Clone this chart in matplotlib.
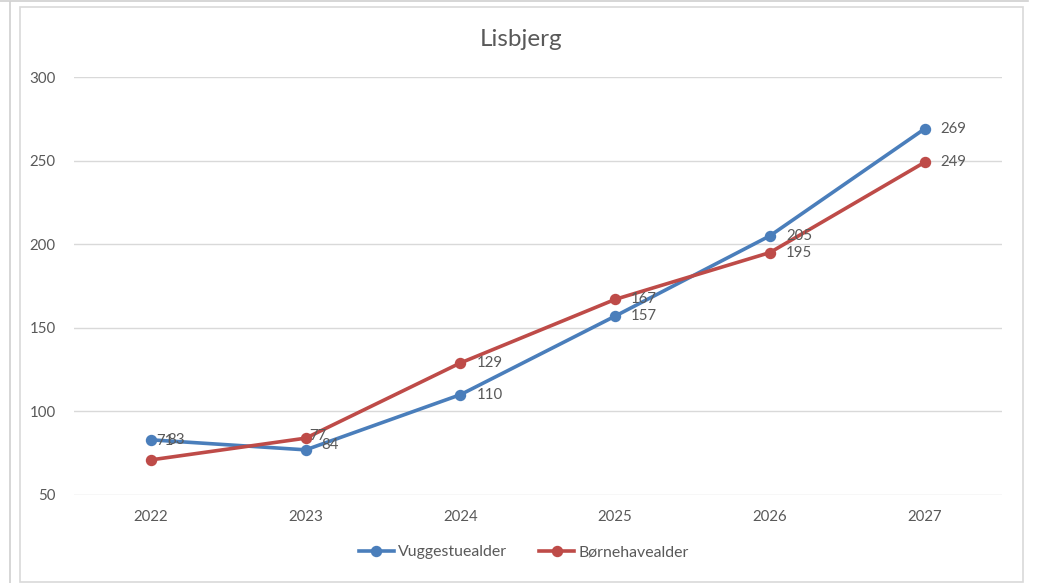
import matplotlib
matplotlib.use("Agg")
import matplotlib.pyplot as plt
from matplotlib.patches import Rectangle
from matplotlib.lines import Line2D

plt.rcParams['font.family'] = ['Lato', 'DejaVu Sans']

# ---- data ----
years = ["2022", "2023", "2024", "2025", "2026", "2027"]
vuggestue = [83, 77, 110, 157, 205, 269]
boernehave = [71, 84, 129, 167, 195, 249]
vuggestue_labels = ["83", "84", "110", "157", "205", "269"]
boernehave_labels = ["71", "77", "129", "167", "195", "249"]
y_ticks = [50, 100, 150, 200, 250, 300]
title = "Lisbjerg"
series_names = ["Vuggestuealder", "Børnehavealder"]

# ---- styling ----
W, H = 1038, 583
BLUE = "#4a7ebb"
RED = "#be4b48"
TEXT = "#595959"
GRID = "#d9d9d9"

fig = plt.figure(figsize=(W / 100, H / 100), dpi=100)
fig.patch.set_facecolor("white")

def fx(px):
    return px / W

def fy(py):
    return 1 - py / H

# outer decorations
fig.add_artist(Line2D([fx(0), fx(1028)], [fy(1), fy(1)], color="#d0d0d0", lw=1.2, transform=fig.transFigure))
fig.add_artist(Line2D([fx(10), fx(10)], [fy(2), fy(583)], color="#d0d0d0", lw=1.2, transform=fig.transFigure))
fig.add_artist(Rectangle((fx(20), fy(582)), fx(1023) - fx(20), fy(7) - fy(582),
                         fill=False, edgecolor="#d9d9d9", lw=1.2, transform=fig.transFigure))

ax = fig.add_axes([fx(73.6), fy(495), fx(1002) - fx(73.6), fy(77) - fy(495)])
x = list(range(len(years)))

ax.set_xlim(-0.5, len(years) - 0.5)
ax.set_ylim(50, 300)
ax.set_yticks(y_ticks)
ax.set_xticks(x)
ax.set_xticklabels(years)
ax.grid(axis="y", color=GRID, lw=1.0)
ax.set_axisbelow(True)
for s in ax.spines.values():
    s.set_visible(False)
ax.tick_params(axis="both", length=0, colors=TEXT, labelsize=10.8)
ax.tick_params(axis="y", pad=13)
ax.tick_params(axis="x", pad=11)

ax.plot(x, vuggestue, color=BLUE, lw=2.6, marker="o", ms=7.2, label=series_names[0], zorder=3)
ax.plot(x, boernehave, color=RED, lw=2.6, marker="o", ms=7.2, label=series_names[1], zorder=3)

# label offsets in points (dx, dy)
vug_off = [(11.5, 0), (11, 3.5), (11.5, 0), (11.5, 0), (11.5, 0), (11.5, 0)]
boe_off = [(3.5, 13.7), (2.2, 1.5), (11.5, 0), (11.5, 0), (11.5, 0), (11.5, 0)]

for xi, yi, lab, off in zip(x, vuggestue, vuggestue_labels, vug_off):
    ax.annotate(lab, (xi, yi), xytext=off, textcoords="offset points",
                ha="left", va="center", fontsize=10.8, color=TEXT, zorder=4)
for xi, yi, lab, off in zip(x, boernehave, boernehave_labels, boe_off):
    ax.annotate(lab, (xi, yi), xytext=off, textcoords="offset points",
                ha="left", va="center", fontsize=10.8, color=TEXT, zorder=4)

fig.text(fx(521), fy(39), title, ha="center", va="center", fontsize=17.5, color=TEXT)

leg = fig.legend(loc="center", bbox_to_anchor=(fx(524), fy(552)), ncol=2, frameon=False,
                 fontsize=11.4, handlelength=2.2, columnspacing=2.0, handletextpad=0.3)
for t in leg.get_texts():
    t.set_color(TEXT)

fig.savefig("out.png", dpi=100, facecolor="white")
